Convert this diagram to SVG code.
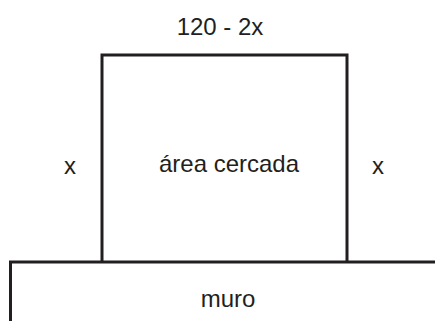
<svg xmlns="http://www.w3.org/2000/svg" width="435" height="321" viewBox="0 0 435 321">
<style>
.ln{fill:none;stroke:#231f20;stroke-width:3}
.t{font-family:"Liberation Sans",Arial,sans-serif;font-size:24px;fill:#231f20;text-anchor:middle}
</style>
<rect width="435" height="321" fill="#ffffff"/>
<g id="connectors">
<path class="ln" d="M102,262 V55 H347 V262"/>
</g>
<g id="wall">
<path class="ln" d="M10.5,321 V262 H435"/>
<text class="t" x="228" y="307">muro</text>
</g>
<g id="area">
<text class="t" x="229" y="172">área cercada</text>
</g>
<g id="top-label"><text class="t" x="220" y="35">120 - 2x</text></g>
<g id="left-label"><text class="t" x="70" y="174">x</text></g>
<g id="right-label"><text class="t" x="378" y="174">x</text></g>
</svg>
